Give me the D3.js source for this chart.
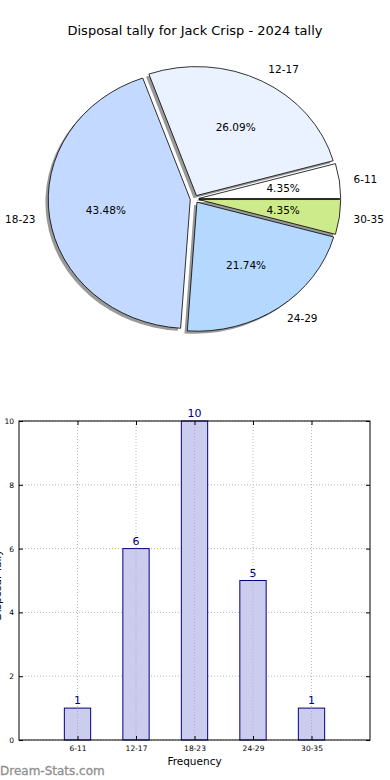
<!DOCTYPE html>
<html>
<head>
<meta charset="utf-8">
<script src="https://cdn.jsdelivr.net/npm/d3@7"></script>
<style>
  body { margin: 0; background: #fff; }
  svg { display: block; font-family: "DejaVu Sans", sans-serif; }
</style>
</head>
<body>
<svg id="chart" width="390" height="780"></svg>
<script>
// data
var categories = ["6-11", "12-17", "18-23", "24-29", "30-35"];
var counts = [1, 6, 10, 5, 1];
var pieColors = ["#ffffff", "#eaf2ff", "#c4d9ff", "#b5d8ff", "#cdeb8b"];
var yTicks = [0, 2, 4, 6, 8, 10];
var title = "Disposal tally for Jack Crisp - 2024 tally";

var svg = d3.select("#chart");

svg.append("text")
    .attr("x", 195).attr("y", 35)
    .attr("text-anchor", "middle")
    .style("font-size", "13px")
    .text(title);

// ---- pie (matplotlib style: starts at 3 o'clock, counterclockwise) ----
var cx = 194.5, cy = 199, rx = 142, ry = 129;
var explode = 0.03, shadowOff = 0.02;
var total = d3.sum(counts);

var pie = d3.pie().sort(null)
    .startAngle(Math.PI / 2)
    .endAngle(Math.PI / 2 - 2 * Math.PI);
var arcs = pie(counts);

var arc = d3.arc().innerRadius(0).outerRadius(1);

// unit-circle group scaled to an ellipse
var pg = svg.append("g")
    .attr("transform", "translate(" + cx + "," + cy + ") scale(" + rx + "," + ry + ")");

function midOf(d) {
    var a = (d.startAngle + d.endAngle) / 2; // d3 angle, 0 at top, clockwise
    return [Math.sin(a), -Math.cos(a)];
}

// shadows
pg.selectAll("path.shadow")
    .data(arcs).enter().append("path")
    .attr("class", "shadow")
    .attr("d", arc)
    .attr("transform", function(d) {
        var m = midOf(d);
        return "translate(" + (m[0] * explode - shadowOff) + "," + (m[1] * explode + shadowOff) + ")";
    })
    .style("fill", "#777")
    .style("fill-opacity", 0.75)
    .style("stroke", "none");

pg.selectAll("path.slice")
    .data(arcs).enter().append("path")
    .attr("class", "slice")
    .attr("d", arc)
    .attr("transform", function(d) {
        var m = midOf(d);
        return "translate(" + (m[0] * explode) + "," + (m[1] * explode) + ")";
    })
    .style("fill", function(d, i) { return pieColors[i]; })
    .style("stroke", "#000")
    .style("stroke-width", "0.8px")
    .attr("vector-effect", "non-scaling-stroke");

var fmtPct = function(v) { return (v / total * 100).toFixed(2) + "%"; };

svg.append("g").selectAll("text")
    .data(arcs).enter().append("text")
    .attr("x", function(d) { var m = midOf(d); return cx + rx * m[0] * (0.6 + explode); })
    .attr("y", function(d) { var m = midOf(d); return cy + ry * m[1] * (0.6 + explode); })
    .attr("dy", "0.35em")
    .attr("text-anchor", "middle")
    .style("font-size", "10.5px")
    .text(function(d) { return fmtPct(d.value); });

svg.append("g").selectAll("text")
    .data(arcs).enter().append("text")
    .attr("x", function(d) { var m = midOf(d); return cx + rx * m[0] * (1.1 + explode); })
    .attr("y", function(d) { var m = midOf(d); return cy + ry * m[1] * (1.1 + explode); })
    .attr("dy", "0.35em")
    .attr("text-anchor", function(d) { return midOf(d)[0] > 0 ? "start" : "end"; })
    .style("font-size", "10.5px")
    .text(function(d, i) { return categories[i]; });

// ---- bar chart ----
var plotLeft = 19, plotRight = 370, plotTop = 421, plotBottom = 740;

var x = d3.scaleLinear().domain([-1, 5]).range([plotLeft, plotRight]);
var y = d3.scaleLinear().domain([0, 10]).range([plotBottom, plotTop]);
var barW = 0.45;

var bg = svg.append("g");

// grid
bg.selectAll("line.vgrid")
    .data(categories).enter().append("line")
    .attr("x1", function(d, i) { return x(i); }).attr("x2", function(d, i) { return x(i); })
    .attr("y1", plotTop).attr("y2", plotBottom)
    .style("stroke", "#b8b8b8").style("stroke-dasharray", "1,2").style("stroke-width", 1);

bg.selectAll("line.hgrid")
    .data(yTicks).enter().append("line")
    .attr("x1", plotLeft).attr("x2", plotRight)
    .attr("y1", function(d) { return y(d); }).attr("y2", function(d) { return y(d); })
    .style("stroke", "#b8b8b8").style("stroke-dasharray", "1,2").style("stroke-width", 1);

// bars
bg.selectAll("rect.bar")
    .data(counts).enter().append("rect")
    .attr("x", function(d, i) { return x(i - barW / 2); })
    .attr("width", x(barW) - x(0))
    .attr("y", function(d) { return y(d); })
    .attr("height", function(d) { return plotBottom - y(d); })
    .style("fill", "#ccccee")
    .style("stroke", "#000080")
    .style("stroke-width", 1);

// grid shows faintly through the bars
bg.selectAll("line.vgrid2")
    .data(categories).enter().append("line")
    .attr("x1", function(d, i) { return x(i); }).attr("x2", function(d, i) { return x(i); })
    .attr("y1", function(d, i) { return y(counts[i]); }).attr("y2", plotBottom)
    .style("stroke", "#9999aa").style("stroke-dasharray", "1,2").style("stroke-width", 1)
    .style("opacity", 0.6);

// value labels
bg.selectAll("text.val")
    .data(counts).enter().append("text")
    .attr("x", function(d, i) { return x(i); })
    .attr("y", function(d) { return y(d) - 4; })
    .attr("text-anchor", "middle")
    .style("font-size", "11px")
    .style("fill", "#000080")
    .text(function(d) { return d; });

// frame
bg.append("rect")
    .attr("x", plotLeft).attr("y", plotTop)
    .attr("width", plotRight - plotLeft).attr("height", plotBottom - plotTop)
    .style("fill", "none").style("stroke", "#000").style("stroke-width", 1);

// axes (ticks inward, labels outside)
var yAxis = d3.axisLeft(y).tickValues(yTicks).tickSize(-4).tickPadding(5);
var yAx = bg.append("g").attr("transform", "translate(" + plotLeft + ",0)").call(yAxis);
yAx.select(".domain").remove();
yAx.selectAll("text").style("font-size", "7.5px").style("font-family", "DejaVu Sans");

var yAxisR = d3.axisRight(y).tickValues(yTicks).tickSize(-4).tickFormat("");
var yAxR = bg.append("g").attr("transform", "translate(" + plotRight + ",0)").call(yAxisR);
yAxR.select(".domain").remove();

var xAxis = d3.axisBottom(x).tickValues(d3.range(categories.length))
    .tickFormat(function(d) { return categories[d]; }).tickSize(-4).tickPadding(6);
var xAx = bg.append("g").attr("transform", "translate(0," + plotBottom + ")").call(xAxis);
xAx.select(".domain").remove();
xAx.selectAll("text").style("font-size", "7.5px").style("font-family", "DejaVu Sans");

var xAxisT = d3.axisTop(x).tickValues(d3.range(categories.length)).tickSize(-4).tickFormat("");
var xAxT = bg.append("g").attr("transform", "translate(0," + plotTop + ")").call(xAxisT);
xAxT.select(".domain").remove();

bg.append("text")
    .attr("x", (plotLeft + plotRight) / 2).attr("y", 765)
    .attr("text-anchor", "middle")
    .style("font-size", "10.5px")
    .text("Frequency");

// y label, mostly outside the left edge as in the reference
bg.append("text")
    .attr("transform", "translate(1,585) rotate(-90)")
    .attr("text-anchor", "middle")
    .style("font-size", "10.5px")
    .text("Disposal Tally");

svg.append("text")
    .attr("x", 0).attr("y", 775)
    .style("font-size", "12px")
    .style("fill", "#8f8f8f")
    .style("stroke", "#8f8f8f")
    .style("stroke-width", "0.3px")
    .text("Dream-Stats.com");
</script>
</body>
</html>
